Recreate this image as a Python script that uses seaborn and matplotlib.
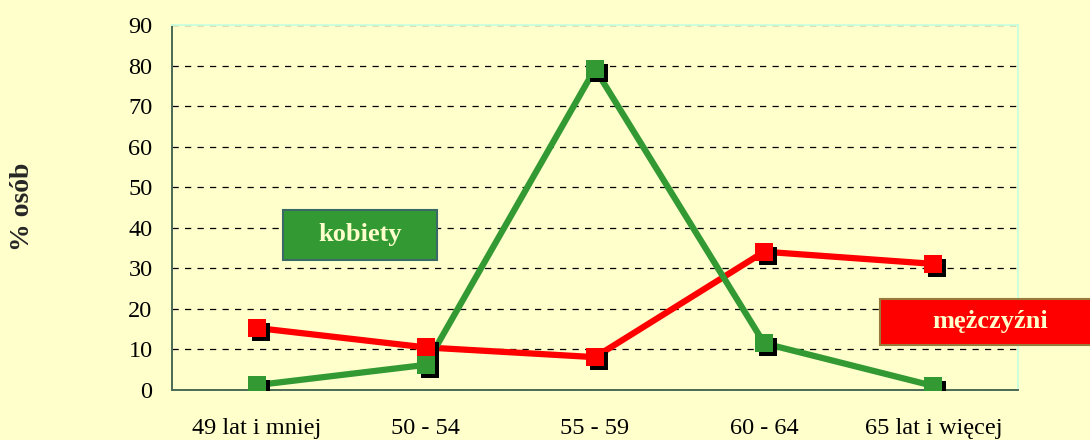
import pandas as pd
import matplotlib.pyplot as plt
import matplotlib.transforms as mtransforms
from matplotlib.patches import Rectangle
from matplotlib.ticker import FixedLocator
import seaborn as sns

# age groups and % of persons
grupy = ["49 lat i mniej", "50 - 54", "55 - 59", "60 - 64", "65 lat i więcej"]
kobiety = [1.2, 6.2, 79.2, 11.5, 1.0]
mezczyzni = [15.3, 10.5, 8.1, 34.1, 31.1]

y_ticks = [0, 10, 20, 30, 40, 50, 60, 70, 80, 90]

bg = "#FFFFCC"
zielony = "#339933"
czerwony = "#FF0000"

df = pd.DataFrame({
    "grupa": grupy * 2,
    "proc": kobiety + mezczyzni,
    "plec": ["kobiety"] * 5 + ["mężczyźni"] * 5,
})

sns.set_style("white")
plt.rcParams["font.family"] = ["Liberation Serif", "DejaVu Serif"]

fig = plt.figure(figsize=(10.9, 4.4), dpi=100, facecolor=bg)
ax = fig.add_axes([172 / 1090, 50 / 440, 846 / 1090, 365 / 440])
ax.set_facecolor(bg)

# shadow offset for the markers (a few pixels right and down)
shadow = ax.transData + mtransforms.ScaledTranslation(4 / 100, -4 / 100, fig.dpi_scale_trans)

for plec, kolor in [("mężczyźni", czerwony), ("kobiety", zielony)]:
    sub = df[df["plec"] == plec]
    sns.lineplot(data=sub, x="grupa", y="proc", color=kolor, linewidth=4.5,
                 sort=False, ax=ax, zorder=3)
    sns.lineplot(data=sub, x="grupa", y="proc", color="black", linestyle="",
                 marker="s", markersize=13.5, markeredgewidth=0, sort=False,
                 ax=ax, transform=shadow, zorder=4)
    sns.lineplot(data=sub, x="grupa", y="proc", color=kolor, linestyle="",
                 marker="s", markersize=13.5, markeredgewidth=0, sort=False,
                 ax=ax, zorder=5)

ax.set_xlim(-0.5, 4.5)
ax.set_ylim(0, 90)
ax.set_yticks(y_ticks)
ax.set_xticks(range(len(grupy)))
ax.set_xticklabels(grupy)
ax.xaxis.set_minor_locator(FixedLocator([i - 0.5 for i in range(len(grupy) + 1)]))
ax.tick_params(axis="x", which="major", length=0, pad=20, labelsize=17.5, colors="black")
ax.tick_params(axis="x", which="minor", length=7, width=1.2, color="#4a6a55", direction="out")
ax.tick_params(axis="y", length=7, width=1.2, color="#4a6a55", direction="out",
               pad=7, labelsize=17.5, labelcolor="black")
ax.set_xlabel("")
ax.set_ylabel("")

ax.yaxis.grid(True, linestyle=(0, (5, 5)), color="black", linewidth=0.9)
ax.set_axisbelow(True)

for s in ["left", "bottom"]:
    ax.spines[s].set_color("#4a6a55")
    ax.spines[s].set_linewidth(1.4)
for s in ["top", "right"]:
    ax.spines[s].set_color("#CCFFDD")
    ax.spines[s].set_linewidth(1.4)

fig.text(23 / 1090, 0.53, "% osób", rotation=90, ha="center", va="center",
         fontsize=20, fontweight="bold")

# series labels as boxes
fig.add_artist(Rectangle((283 / 1090, 180 / 440), 154 / 1090, 50 / 440,
                         transform=fig.transFigure, facecolor=zielony,
                         edgecolor="#3a6a66", linewidth=1.5, zorder=6))
fig.text(360 / 1090, 206 / 440, "kobiety", ha="center", va="center",
         fontsize=19, fontweight="bold", color=bg, zorder=7)

fig.add_artist(Rectangle((880 / 1090, 95 / 440), 220 / 1090, 46 / 440,
                         transform=fig.transFigure, facecolor=czerwony,
                         edgecolor="#9a7a3a", linewidth=1.5, zorder=6))
fig.text(990 / 1090, 119 / 440, "mężczyźni", ha="center", va="center",
         fontsize=19, fontweight="bold", color=bg, zorder=7)

fig.savefig("out.png", dpi=100, facecolor=bg)
